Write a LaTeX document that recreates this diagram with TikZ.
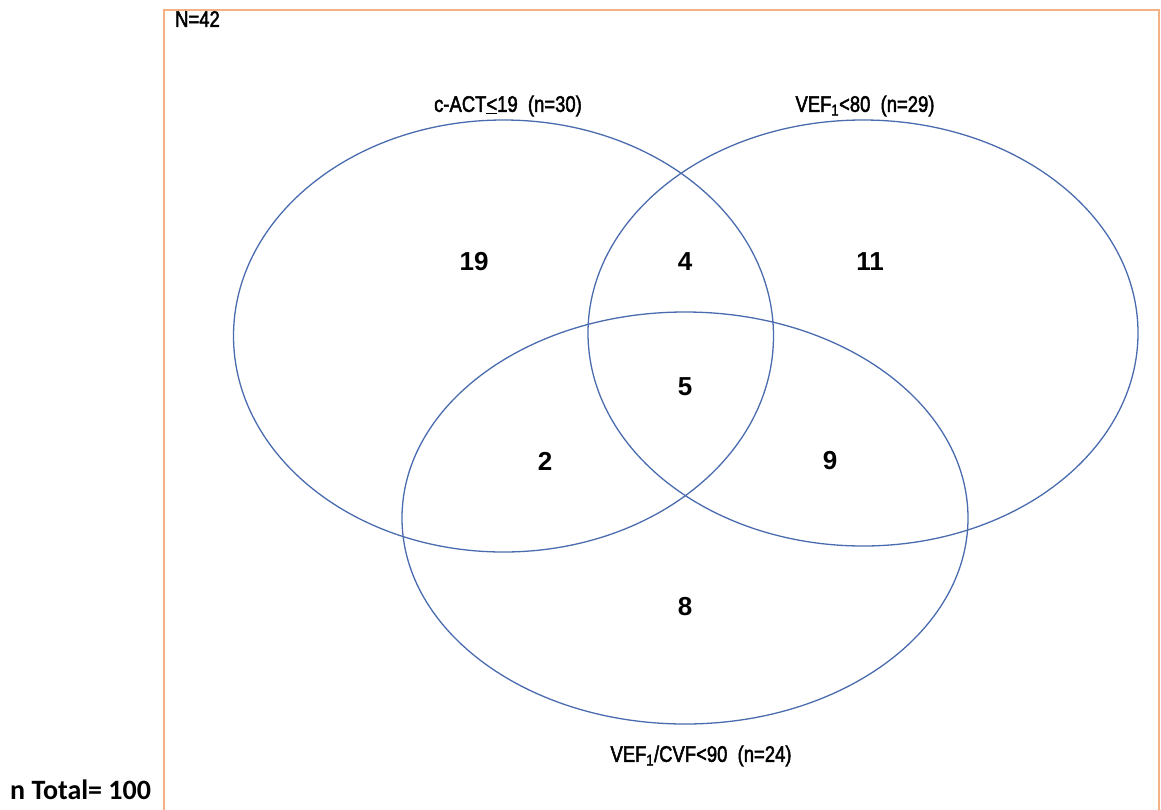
\documentclass[tikz,border=0pt]{standalone}
\usepackage{fontspec}
\setmainfont{Liberation Sans}
\newfontfamily\condfont[FakeStretch=0.82,FakeBold=2]{Liberation Sans}
\newfontfamily\calfont{Carlito}
\definecolor{vennblue}{HTML}{4A6BAE}
\definecolor{frameorange}{HTML}{F4B183}
\tikzset{
  venn/.style={draw=vennblue, line width=1.3pt},
  setlabel/.style={font=\condfont\fontsize{22.5}{26}\selectfont, inner sep=0pt},
  countlabel/.style={font=\bfseries\fontsize{26}{30}\selectfont, inner sep=0pt},
}
\begin{document}
\begin{tikzpicture}[x=1pt,y=-1pt]
\useasboundingbox (0,0) rectangle (1161,809);
\begin{scope}
\clip (0,0) rectangle (1161,809);
\draw[frameorange, line width=2.5pt] (164,850) -- (164,10) -- (1159,10) -- (1159,850);
\end{scope}
\node[setlabel, anchor=west] (N) at (175,19) {N=42};
\draw[venn] (503.5,336) ellipse [x radius=270, y radius=216];
\draw[venn] (863,333) ellipse [x radius=275, y radius=213];
\draw[venn] (685,518) ellipse [x radius=283, y radius=206];
\node[setlabel] (A) at (508,106) {c-ACT\underline{<}19\ \ (n=30)};
\node[setlabel] (B) at (865,106) {VEF\textsubscript{1}<80\ \ (n=29)};
\node[setlabel] (C) at (701,756) {VEF\textsubscript{1}/CVF<90\ \ (n=24)};
\node[countlabel] (a) at (474,262) {19};
\node[countlabel] (ab) at (685,262) {4};
\node[countlabel] (b) at (870,262) {11};
\node[countlabel] (abc) at (685,387) {5};
\node[countlabel] (ac) at (545,461) {2};
\node[countlabel] (bc) at (830,461) {9};
\node[countlabel] (c) at (685,607) {8};
\node[font=\calfont\bfseries\fontsize{28}{32}\selectfont, anchor=west, inner sep=0pt] (tot) at (10,790) {n Total= 100};
\end{tikzpicture}
\end{document}
